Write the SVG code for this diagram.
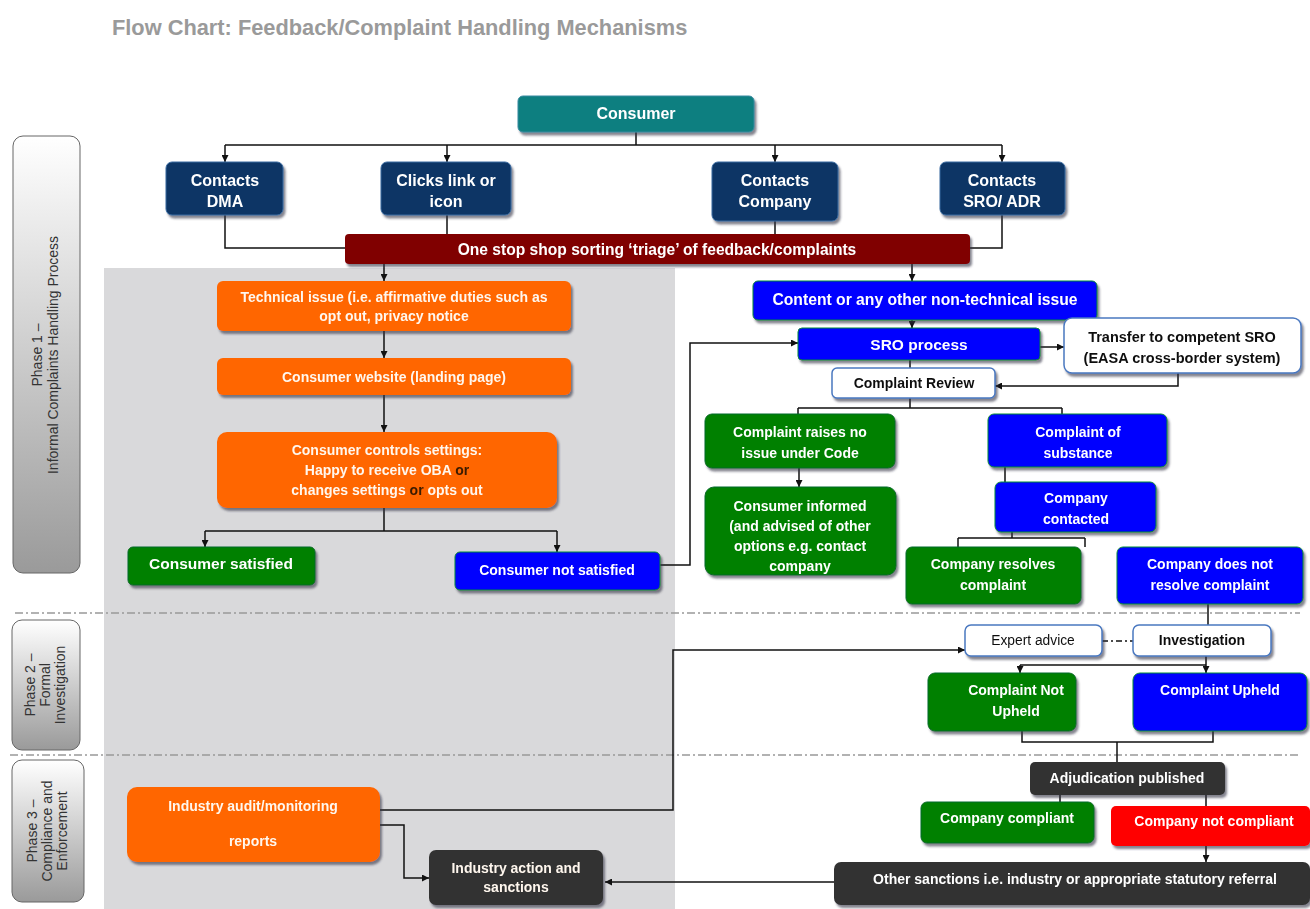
<svg xmlns="http://www.w3.org/2000/svg" width="1310" height="909" viewBox="0 0 1310 909">
<style>
text{font-family:"Liberation Sans",Arial,sans-serif;}
.t{font-size:14px;font-weight:bold;fill:#fff;text-anchor:middle;}
.t16{font-size:16px;}
.tb{font-size:14px;font-weight:bold;fill:#111;text-anchor:middle;}
.to{font-size:14px;font-weight:bold;fill:#fff7ee;text-anchor:middle;}
.ph{font-size:14px;fill:#333;text-anchor:middle;}
.navy{fill:#0b3565;stroke:#3a6aa0;stroke-width:1;}
.blue{fill:#0000ff;stroke:#0b8a3a;stroke-width:1;}
.green{fill:#008000;stroke:#0a6a2a;stroke-width:1;}
.orange{fill:#ff6600;}
.dark{fill:#333333;}
.white{fill:#fff;stroke:#4a78c0;stroke-width:1.5;}
.red{fill:#ff0000;}
.c{fill:none;stroke:#111;stroke-width:1.5;}
.ca{fill:none;stroke:#111;stroke-width:1.5;marker-end:url(#ah);}
.dd{fill:none;stroke:#999;stroke-width:1.5;stroke-dasharray:8,3,2,3;}
.phase{fill:url(#pg);stroke:#666;stroke-width:1;}
</style>
<defs>
<marker id="ah" viewBox="0 0 10 10" refX="10" refY="5" markerWidth="7" markerHeight="7" orient="auto" markerUnits="userSpaceOnUse"><path d="M0,0 L10,5 L0,10 z" fill="#111"/></marker>
<linearGradient id="pg" x1="0" y1="0" x2="0" y2="1"><stop offset="0" stop-color="#ffffff"/><stop offset="1" stop-color="#9a9a9a"/></linearGradient>
<filter id="sh" x="-5%" y="-10%" width="115%" height="130%"><feDropShadow dx="2" dy="3" stdDeviation="1" flood-color="#334" flood-opacity="0.6"/></filter>
</defs>
<rect width="1310" height="909" fill="#fff"/>
<text x="112" y="35" style="font-size:21.8px;font-weight:bold;fill:#9a9a9a">Flow Chart: Feedback/Complaint Handling Mechanisms</text>

<rect x="104" y="268" width="571" height="641" fill="#d9d9db"/>

<g id="phases">
<rect class="phase" x="13" y="136" width="67" height="437" rx="10"/>
<text class="ph" transform="translate(46,355) rotate(-90)"><tspan x="0" y="-4">Phase 1 –</tspan><tspan x="0" y="12">Informal Complaints Handling Process</tspan></text>
<rect class="phase" x="12" y="620" width="68" height="130" rx="10"/>
<text class="ph" transform="translate(46,685) rotate(-90)"><tspan x="0" y="-11">Phase 2 –</tspan><tspan x="0" y="4">Formal</tspan><tspan x="0" y="19">Investigation</tspan></text>
<rect class="phase" x="12" y="760" width="72" height="142" rx="10"/>
<text class="ph" transform="translate(48,831) rotate(-90)"><tspan x="0" y="-11">Phase 3 –</tspan><tspan x="0" y="4">Compliance and</tspan><tspan x="0" y="19">Enforcement</tspan></text>
<path class="dd" d="M15,613 H1300"/>
<path class="dd" d="M10,755 H1300"/>
</g>

<g id="connectors">
<path class="c" d="M636,132 V145 M225,145 H1002"/>
<path class="ca" d="M225,145 V162"/>
<path class="ca" d="M447,145 V162"/>
<path class="ca" d="M775,145 V162"/>
<path class="ca" d="M1002,145 V162"/>
<path class="c" d="M225,215 V248 H345 M447,215 V234 M775,221 V234 M1002,215 V248 H970"/>
<path class="ca" d="M384,264 V281"/>
<path class="ca" d="M912,264 V281"/>
<path class="ca" d="M384,331 V358"/>
<path class="ca" d="M384,395 V432"/>
<path class="c" d="M384,508 V531 M205,531 H557"/>
<path class="ca" d="M205,531 V547"/>
<path class="ca" d="M557,531 V552"/>
<path class="ca" d="M660,565 H690 V343 H798"/>
<path class="ca" d="M912,320 V328"/>
<path class="ca" d="M1040,347 H1064"/>
<path class="c" d="M910,360 V368"/>
<path class="ca" d="M1178,373 V386 H995"/>
<path class="c" d="M910,398 V408 M798,408 H1062 M798,408 V414 M1062,408 V414"/>
<path class="ca" d="M799,468 V487"/>
<path class="c" d="M1005,467 V482 M1012,532 V538 M958,538 H1085 M958,538 V547 M1085,538 V547 M1208,604 V625"/>
<path d="M1102,641 H1133" fill="none" stroke="#111" stroke-width="1.5" stroke-dasharray="6,3,2,3"/>
<path class="ca" d="M380,810 H673 V650 H965"/>
<path class="ca" d="M1206,656 V673"/>
<path class="c" d="M1020,665 H1206"/>
<path class="ca" d="M1020,665 V673"/>
<path class="c" d="M1022,731 V742 H1213 V731 M1117,742 V762 M1060,795 V802 M1206,795 V806"/>
<path class="ca" d="M1206,846 V862"/>
<path class="ca" d="M834,882 H605"/>
<path class="ca" d="M380,825 H404 V878 H429"/>
</g>

<g id="consumer" filter="url(#sh)"><rect x="518" y="96" width="236" height="36" rx="5" fill="#0f7f80" stroke="#3a8aa0"/><text class="t t16" x="636" y="119">Consumer</text></g>
<g id="dma" filter="url(#sh)"><rect class="navy" x="166" y="162" width="117" height="53" rx="6"/><text class="t t16" x="225" y="186">Contacts</text><text class="t t16" x="225" y="207">DMA</text></g>
<g id="clicks" filter="url(#sh)"><rect class="navy" x="381" y="162" width="130" height="53" rx="6"/><text class="t t16" x="446" y="186">Clicks link or</text><text class="t t16" x="446" y="207">icon</text></g>
<g id="company" filter="url(#sh)"><rect class="navy" x="712" y="162" width="126" height="59" rx="6"/><text class="t t16" x="775" y="186">Contacts</text><text class="t t16" x="775" y="207">Company</text></g>
<g id="sroadr" filter="url(#sh)"><rect class="navy" x="940" y="162" width="125" height="53" rx="6"/><text class="t t16" x="1002" y="186">Contacts</text><text class="t t16" x="1002" y="207">SRO/ ADR</text></g>
<g id="triage" filter="url(#sh)"><rect x="345" y="234" width="625" height="30" rx="4" fill="#800000"/><text class="t" x="657" y="255" style="font-size:15.6px">One stop shop sorting ‘triage’ of feedback/complaints</text></g>

<g id="technical" filter="url(#sh)"><rect class="orange" x="217" y="281" width="354" height="50" rx="6"/><text class="to" x="394" y="302">Technical issue (i.e. affirmative duties such as</text><text class="to" x="394" y="321">opt out, privacy notice</text></g>
<g id="website" filter="url(#sh)"><rect class="orange" x="217" y="358" width="354" height="37" rx="6"/><text class="to" x="394" y="382">Consumer website (landing page)</text></g>
<g id="controls" filter="url(#sh)"><rect class="orange" x="217" y="432" width="340" height="76" rx="10"/><text class="to" x="387" y="455">Consumer controls settings:</text><text class="to" x="387" y="475">Happy to receive OBA <tspan fill="#3a1a00">or</tspan></text><text class="to" x="387" y="495">changes settings <tspan fill="#3a1a00">or</tspan> opts out</text></g>
<g id="satisfied" filter="url(#sh)"><rect class="green" x="128" y="547" width="187" height="38" rx="5"/><text class="t" x="221" y="569" style="font-size:15.5px">Consumer satisfied</text></g>
<g id="notsatisfied" filter="url(#sh)"><rect class="blue" x="455" y="552" width="205" height="38" rx="5"/><text class="t" x="557" y="575">Consumer not satisfied</text></g>

<g id="content" filter="url(#sh)"><rect class="blue" x="753" y="281" width="344" height="39" rx="5"/><text class="t" x="925" y="305" style="font-size:15.7px">Content or any other non-technical issue</text></g>
<g id="sro" filter="url(#sh)"><rect class="blue" x="798" y="328" width="242" height="32" rx="4"/><text class="t" x="919" y="350" style="font-size:15.5px">SRO process</text></g>
<g id="transfer" filter="url(#sh)"><rect class="white" x="1064" y="318" width="237" height="55" rx="8"/><text class="tb" x="1182" y="342" style="font-size:14.5px">Transfer to competent SRO</text><text class="tb" x="1182" y="363" style="font-size:14.5px">(EASA cross-border system)</text></g>
<g id="review" filter="url(#sh)"><rect class="white" x="832" y="368" width="163" height="30" rx="5"/><text class="tb" x="914" y="388">Complaint Review</text></g>
<g id="noissue" filter="url(#sh)"><rect class="green" x="705" y="414" width="190" height="54" rx="7"/><text class="t" x="800" y="437">Complaint raises no</text><text class="t" x="800" y="458">issue under Code</text></g>
<g id="informed" filter="url(#sh)"><rect class="green" x="705" y="487" width="191" height="88" rx="9"/><text class="t" x="800" y="511">Consumer informed</text><text class="t" x="800" y="531">(and advised of other</text><text class="t" x="800" y="551">options e.g. contact</text><text class="t" x="800" y="571">company</text></g>
<g id="substance" filter="url(#sh)"><rect class="blue" x="988" y="414" width="179" height="53" rx="6"/><text class="t" x="1078" y="437">Complaint of</text><text class="t" x="1078" y="458">substance</text></g>
<g id="contacted" filter="url(#sh)"><rect class="blue" x="995" y="482" width="161" height="50" rx="6"/><text class="t" x="1076" y="503">Company</text><text class="t" x="1076" y="524">contacted</text></g>
<g id="resolves" filter="url(#sh)"><rect class="green" x="906" y="547" width="175" height="57" rx="6"/><text class="t" x="993" y="569">Company resolves</text><text class="t" x="993" y="590">complaint</text></g>
<g id="notresolve" filter="url(#sh)"><rect class="blue" x="1117" y="547" width="186" height="57" rx="6"/><text class="t" x="1210" y="569">Company does not</text><text class="t" x="1210" y="590">resolve complaint</text></g>
<g id="expert" filter="url(#sh)"><rect class="white" x="965" y="625" width="137" height="31" rx="6"/><text x="1033" y="645" style="font-size:13.8px;fill:#111;text-anchor:middle">Expert advice</text></g>
<g id="investigation" filter="url(#sh)"><rect class="white" x="1133" y="625" width="138" height="31" rx="6"/><text class="tb" x="1202" y="645">Investigation</text></g>
<g id="notupheld" filter="url(#sh)"><rect class="green" x="928" y="673" width="148" height="58" rx="7"/><text class="t" x="1016" y="695">Complaint Not</text><text class="t" x="1016" y="716">Upheld</text></g>
<g id="upheld" filter="url(#sh)"><rect class="blue" x="1133" y="673" width="174" height="58" rx="7"/><text class="t" x="1220" y="695">Complaint Upheld</text></g>
<g id="adjudication" filter="url(#sh)"><rect class="dark" x="1030" y="762" width="195" height="33" rx="5"/><text class="t" x="1127" y="783">Adjudication published</text></g>
<g id="compliant" filter="url(#sh)"><rect class="green" x="921" y="802" width="173" height="41" rx="6"/><text class="t" x="1007" y="823">Company compliant</text></g>
<g id="notcompliant" filter="url(#sh)"><rect class="red" x="1111" y="806" width="199" height="40" rx="5"/><text class="t" x="1214" y="826">Company not compliant</text></g>
<g id="othersanctions" filter="url(#sh)"><rect class="dark" x="834" y="862" width="476" height="43" rx="7"/><text class="t" x="1075" y="884">Other sanctions i.e. industry or appropriate statutory referral</text></g>
<g id="audit" filter="url(#sh)"><rect class="orange" x="127" y="787" width="253" height="75" rx="10"/><text class="to" x="253" y="811">Industry audit/monitoring</text><text class="to" x="253" y="846">reports</text></g>
<g id="industryaction" filter="url(#sh)"><rect class="dark" x="429" y="850" width="174" height="55" rx="7"/><text class="to" x="516" y="873">Industry action and</text><text class="to" x="516" y="892">sanctions</text></g>
</svg>
